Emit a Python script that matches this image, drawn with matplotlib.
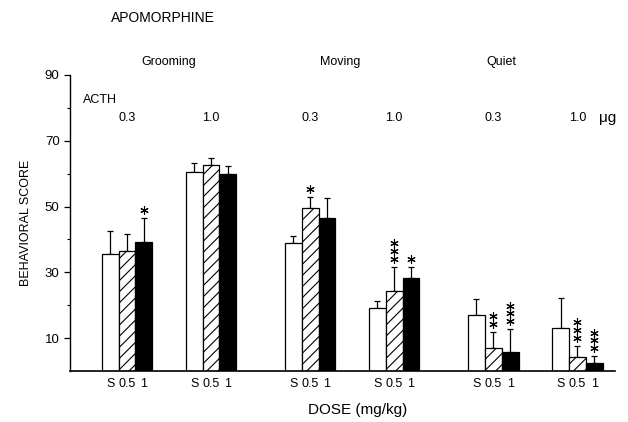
import numpy as np
import matplotlib
matplotlib.use("Agg")
import matplotlib.pyplot as plt

plt.rcParams['font.family'] = ['Liberation Sans', 'DejaVu Sans']
plt.rcParams['hatch.linewidth'] = 0.8

# data
categories = ["Grooming", "Moving", "Quiet"]
acth_doses = ["0.3", "1.0"]
dose_labels = ["S", "0.5", "1"]
# one row per (category, ACTH dose) group, columns = S, 0.5, 1 mg/kg
means = np.array([
    [35.6, 36.6, 39.3],
    [60.6, 62.6, 59.9],
    [38.8, 49.5, 46.4],
    [19.0, 24.3, 28.2],
    [17.0, 6.9, 5.8],
    [13.0, 4.1, 2.5],
])
errs = np.array([
    [42.6, 41.6, 46.5],
    [63.1, 64.9, 62.4],
    [41.1, 53.0, 52.5],
    [21.4, 31.7, 31.7],
    [21.8, 11.9, 12.7],
    [22.1, 7.7, 4.5],
]) - means
stars = np.array([
    [0, 0, 1],
    [0, 0, 0],
    [0, 1, 0],
    [0, 3, 1],
    [0, 2, 3],
    [0, 3, 3],
])

fig = plt.figure(figsize=(6.28, 4.22), dpi=100)
ax = fig.add_axes([0.1115, 0.1209, 0.868, 0.7014])

cat_step = 10.9
acth_step = 5.0
width = 1.0
styles = [dict(color='white', hatch=None), dict(color='white', hatch='///'), dict(color='black', hatch=None)]

centers = []
tick_pos = []
tick_lab = []
for g in range(len(means)):
    c = (g // 2) * cat_step + (g % 2) * acth_step
    centers.append(c)
    for j in range(3):
        x = c + (j - 1) * width
        ax.bar(x, means[g, j], width=width, color=styles[j]['color'], hatch=styles[j]['hatch'],
               edgecolor='black', linewidth=0.9, zorder=2)
        ax.errorbar(x, means[g, j], yerr=[[0], [errs[g, j]]], fmt='none', ecolor='black',
                    elinewidth=0.9, capsize=2.5, capthick=0.9, zorder=1)
        top = means[g, j] + errs[g, j]
        for k in range(stars[g, j]):
            ax.plot(x, top + 2.4 + k * 2.4, marker=(6, 2, 0), color='black', markersize=6,
                    markeredgewidth=0.8, clip_on=False)
        tick_pos.append(x)
        tick_lab.append(dose_labels[j])

for g, c in enumerate(centers):
    ax.text(c, 76.9, acth_doses[g % 2], ha='center', va='center', fontsize=9)
ax.text(centers[-1] + 1.3, 76.9, "μg", ha='left', va='center', fontsize=11)
ax.text(-2.6, 82.3, "ACTH", ha='left', va='center', fontsize=9)

label_shift = [2.5, 1.8, 0.5]
for i, name in enumerate(categories):
    ax.text(centers[2 * i] + label_shift[i], 93.8, name, ha='center', va='center', fontsize=9, clip_on=False)
fig.text(0.26, 0.957, "APOMORPHINE", ha='center', va='center', fontsize=10)

ax.set_xlim(-3.39, 29.05)
ax.set_ylim(0, 90)
ax.set_yticks([10, 30, 50, 70, 90])
ax.set_yticks([20, 40, 60, 80], minor=True)
ax.tick_params(axis='y', which='major', length=4, width=0.9, labelsize=9.5, direction='out')
ax.tick_params(axis='y', which='minor', length=2, width=0.8, direction='out')
ax.set_xticks(tick_pos)
ax.set_xticklabels(tick_lab, fontsize=9)
ax.tick_params(axis='x', length=0, pad=5)
for s in ['top', 'right']:
    ax.spines[s].set_visible(False)
ax.spines['left'].set_linewidth(1.0)
ax.spines['bottom'].set_linewidth(1.2)

ax.set_ylabel("BEHAVIORAL SCORE", fontsize=9, labelpad=9)
fig.text(0.57, 0.028, "DOSE (mg/kg)", ha='center', va='center', fontsize=11)

fig.savefig("out.png", dpi=100)
